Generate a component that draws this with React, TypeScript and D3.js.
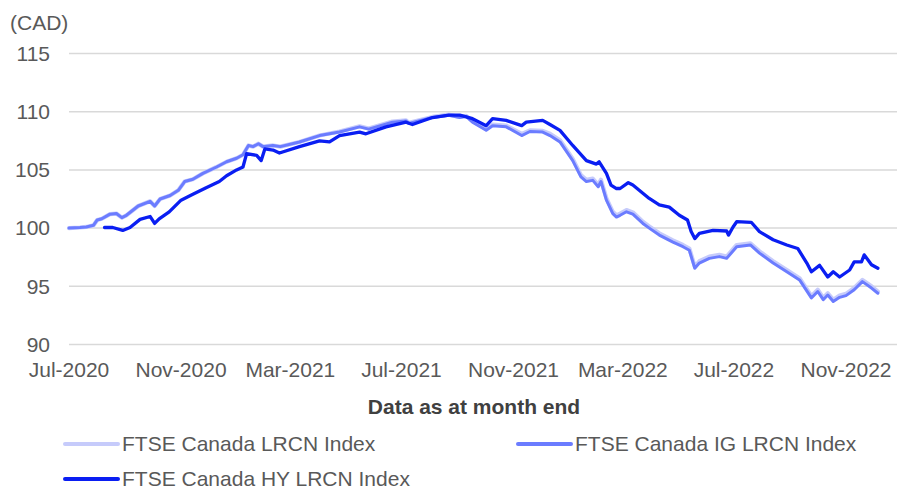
import React from "react";
import * as d3 from "d3";

// Series: FTSE Canada LRCN indices (rebased to 100)
const igDates = ["2020-07-01","2020-07-13","2020-07-20","2020-07-28","2020-08-01","2020-08-06","2020-08-15","2020-08-22","2020-08-28","2020-09-02","2020-09-15","2020-09-28","2020-10-03","2020-10-09","2020-10-20","2020-10-29","2020-11-05","2020-11-14","2020-11-25","2020-12-10","2020-12-21","2021-01-01","2021-01-08","2021-01-14","2021-01-19","2021-01-25","2021-01-30","2021-02-10","2021-02-18","2021-03-11","2021-04-02","2021-04-24","2021-05-16","2021-05-26","2021-06-21","2021-07-06","2021-07-09","2021-08-04","2021-08-22","2021-09-03","2021-09-10","2021-09-17","2021-10-02","2021-10-09","2021-10-24","2021-11-10","2021-11-19","2021-12-03","2021-12-11","2021-12-22","2022-01-05","2022-01-14","2022-01-20","2022-01-27","2022-02-02","2022-02-05","2022-02-11","2022-02-18","2022-02-22","2022-02-26","2022-03-05","2022-03-12","2022-03-23","2022-03-30","2022-04-10","2022-04-25","2022-05-06","2022-05-13","2022-05-19","2022-05-24","2022-06-04","2022-06-15","2022-06-23","2022-07-04","2022-07-19","2022-07-29","2022-08-13","2022-08-28","2022-09-11","2022-09-24","2022-10-01","2022-10-07","2022-10-12","2022-10-18","2022-10-25","2022-11-01","2022-11-10","2022-11-19","2022-11-29","2022-12-06"];

const lrcnValues = [100.0,100.05,100.1,100.25,100.7,100.8,101.2,101.25,100.9,101.1,101.9,102.3,101.9,102.5,102.8,103.25,104.0,104.2,104.7,105.25,105.7,106.0,106.3,107.1,107.0,107.25,107.0,107.1,107.0,107.4,107.95,108.3,108.75,108.55,109.15,109.25,109.05,109.55,109.75,109.55,109.65,109.2,108.5,108.9,108.8,108.1,108.4,108.35,108.1,107.55,105.95,104.55,104.15,104.25,103.7,104.15,102.55,101.4,101.1,101.25,101.55,101.35,100.55,100.15,99.55,98.95,98.55,98.25,96.7,97.15,97.55,97.7,97.55,98.55,98.7,98.0,97.15,96.4,95.7,94.15,94.7,94.0,94.4,93.85,94.2,94.35,94.85,95.55,95.0,94.55];

const igValues = [100.0,100.05,100.1,100.25,100.7,100.8,101.2,101.25,100.9,101.1,101.9,102.3,101.9,102.5,102.8,103.25,104.0,104.2,104.7,105.25,105.7,106.0,106.3,107.1,107.0,107.25,107.0,107.1,107.0,107.4,107.95,108.25,108.7,108.5,109.1,109.2,109.0,109.5,109.7,109.5,109.6,109.1,108.4,108.8,108.7,107.95,108.3,108.25,107.95,107.4,105.8,104.4,104.0,104.1,103.55,104.0,102.4,101.25,100.95,101.1,101.4,101.2,100.4,100.0,99.4,98.8,98.4,98.1,96.55,97.0,97.4,97.55,97.4,98.4,98.55,97.85,97.0,96.25,95.55,94.0,94.55,93.85,94.25,93.7,94.05,94.2,94.7,95.4,94.85,94.4];

const hyDates = ["2020-08-09","2020-08-18","2020-08-29","2020-09-06","2020-09-17","2020-09-28","2020-10-03","2020-10-08","2020-10-19","2020-11-01","2020-11-14","2020-11-28","2020-12-13","2020-12-21","2021-01-01","2021-01-08","2021-01-12","2021-01-23","2021-01-28","2021-02-01","2021-02-10","2021-02-17","2021-03-11","2021-04-02","2021-04-13","2021-04-24","2021-05-16","2021-05-23","2021-06-14","2021-07-06","2021-07-13","2021-08-04","2021-08-22","2021-09-03","2021-09-17","2021-10-02","2021-10-09","2021-10-24","2021-11-10","2021-11-15","2021-12-03","2021-12-11","2021-12-22","2022-01-05","2022-01-20","2022-01-31","2022-02-03","2022-02-11","2022-02-16","2022-02-22","2022-02-26","2022-03-07","2022-03-12","2022-03-23","2022-03-30","2022-04-10","2022-04-21","2022-05-02","2022-05-11","2022-05-15","2022-05-19","2022-05-24","2022-06-08","2022-06-23","2022-06-25","2022-06-30","2022-07-04","2022-07-20","2022-07-29","2022-08-13","2022-08-28","2022-09-09","2022-09-19","2022-09-24","2022-10-03","2022-10-12","2022-10-18","2022-10-25","2022-11-05","2022-11-10","2022-11-18","2022-11-21","2022-11-29","2022-12-06"];

const hyValues = [100.05,100.05,99.8,100.05,100.75,101.0,100.4,100.8,101.4,102.4,102.9,103.45,104.0,104.5,105.0,105.25,106.4,106.25,105.8,106.8,106.7,106.45,107.0,107.5,107.4,107.95,108.25,108.1,108.7,109.1,108.9,109.5,109.7,109.7,109.4,108.8,109.4,109.25,108.8,109.1,109.25,108.9,108.4,107.1,105.8,105.5,105.7,104.7,103.7,103.4,103.4,103.9,103.7,103.0,102.55,102.0,101.8,101.1,100.7,99.7,99.1,99.55,99.8,99.75,99.4,100.1,100.55,100.5,99.7,99.0,98.55,98.25,97.0,96.25,96.8,95.8,96.25,95.8,96.4,97.1,97.1,97.7,96.85,96.55];

const xTickDates = ["2020-07-01","2020-11-01","2021-03-01","2021-07-01","2021-11-01","2022-03-01","2022-07-01","2022-11-01"];
const xTickLabels = ["Jul-2020","Nov-2020","Mar-2021","Jul-2021","Nov-2021","Mar-2022","Jul-2022","Nov-2022"];
const yTicks = [90, 95, 100, 105, 110, 115];

const seriesNames = ["FTSE Canada LRCN Index", "FTSE Canada IG LRCN Index", "FTSE Canada HY LRCN Index"];
const seriesColors = ["#c6cbfb", "#6b7cff", "#0a1ef2"];

const W = 898;
const H = 491;
const FONT = "'Liberation Sans', Arial, sans-serif";
const parse = d3.utcParse("%Y-%m-%d");

export default function App() {
  const x = d3.scaleUtc().domain([parse("2020-07-01")!, parse("2022-11-01")!]).range([69, 846]);
  const y = d3.scaleLinear().domain([90, 115]).range([344.5, 53.5]);
  const line = d3.line<[Date, number]>().x(d => x(d[0])).y(d => y(d[1]));

  const series = [
    { dates: igDates, values: lrcnValues, width: 4.2 },
    { dates: igDates, values: igValues, width: 3 },
    { dates: hyDates, values: hyValues, width: 3.3 },
  ].map((s, i) => ({
    ...s,
    name: seriesNames[i],
    color: seriesColors[i],
    points: s.dates.map((d, j) => [parse(d)!, s.values[j]] as [Date, number]),
  }));

  const legendPos = [
    { x: 65, y: 444 },
    { x: 518, y: 444 },
    { x: 65, y: 479 },
  ];

  return (
    <div style={{ position: "absolute", left: 0, top: 0 }}>
      <svg width={W} height={H} style={{ display: "block", background: "#fff" }} fontFamily={FONT}>
        {/* gridlines */}
        {yTicks.map(t => (
          <line key={t} x1={69} x2={897} y1={y(t)} y2={y(t)} stroke="#d9d9d9" strokeWidth={1.5} />
        ))}
        {/* y tick labels */}
        {yTicks.map(t => (
          <text key={t} x={50} y={y(t)} dy="0.35em" textAnchor="end" fontSize={21} fill="#595959">{t}</text>
        ))}
        <text x={10} y={30} fontSize={21} fill="#595959">(CAD)</text>

        {/* x tick labels */}
        {xTickDates.map((d, i) => (
          <text key={d} x={x(parse(d)!)} y={377} textAnchor="middle" fontSize={21} fill="#595959">{xTickLabels[i]}</text>
        ))}
        <text x={474} y={414} textAnchor="middle" fontSize={21} fontWeight="bold" fill="#404040">Data as at month end</text>

        {/* lines */}
        {series.map(s => (
          <path key={s.name} d={line(s.points) ?? ""} fill="none" stroke={s.color} strokeWidth={s.width} strokeLinejoin="round" strokeLinecap="round" />
        ))}

        {/* legend */}
        {series.map((s, i) => (
          <g key={s.name} transform={`translate(${legendPos[i].x},${legendPos[i].y})`}>
            <line x1={0} x2={53} y1={0} y2={0} stroke={s.color} strokeWidth={4} strokeLinecap="round" />
            <text x={57} y={0} dy="0.35em" fontSize={21} fill="#595959">{s.name}</text>
          </g>
        ))}
      </svg>
    </div>
  );
}
